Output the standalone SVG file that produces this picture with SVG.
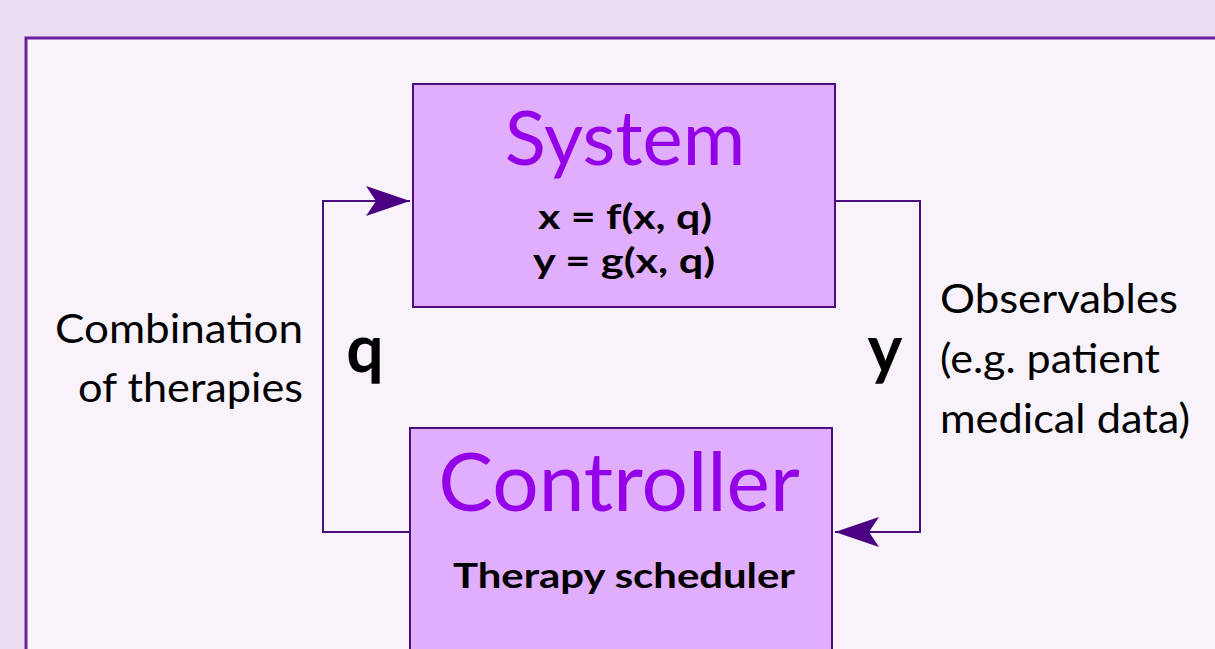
<svg xmlns="http://www.w3.org/2000/svg" width="1215" height="649" viewBox="0 0 1215 649">
<style>
.box{fill:#E0AEFC;stroke:#4B0E7E;stroke-width:2}
.title{font-family:Lato,"Noto Sans",sans-serif;fill:#9400E8;text-anchor:middle}
.eq{font-family:Lato,"Noto Sans",sans-serif;font-weight:bold;fill:#000;text-anchor:middle}
.lbl{font-family:Lato,"Noto Sans",sans-serif;fill:#000;font-size:40px}
.var{font-family:Lato,"Noto Sans",sans-serif;font-weight:bold;fill:#000;font-size:66px}
.conn{fill:none;stroke:#4B0E7E;stroke-width:2}
</style>
<defs>
<marker id="arr" markerWidth="46" markerHeight="30" refX="44" refY="15" orient="auto" markerUnits="userSpaceOnUse">
<path d="M0,0 L44,15 L0,30 L10,15 Z" fill="#4B0082"/>
</marker>
</defs>
<rect x="0" y="0" width="1215" height="649" fill="#EBDDF0"/>
<rect x="26" y="38" width="1200" height="620" fill="#F8F3FA" stroke="#6A1FA0" stroke-width="3"/>
<g id="connectors">
<path class="conn" d="M410,532 H323 V201 H410" marker-end="url(#arr)"/>
<path class="conn" d="M835,201 H920 V532 H835" marker-end="url(#arr)"/>
</g>
<g id="system">
<rect class="box" x="413" y="84" width="422" height="223"/>
<text class="title" x="625" y="165" font-size="76">System</text>
<text class="eq" x="625" y="229" font-size="35" textLength="174" lengthAdjust="spacingAndGlyphs">x = f(x, q)</text>
<text class="eq" x="624" y="273" font-size="35" textLength="182" lengthAdjust="spacingAndGlyphs">y = g(x, q)</text>
</g>
<g id="controller">
<rect class="box" x="410" y="428" width="422" height="240"/>
<text class="title" x="619" y="511" font-size="82">Controller</text>
<text class="eq" x="624" y="588" font-size="35" textLength="342" lengthAdjust="spacingAndGlyphs">Therapy scheduler</text>
</g>
<g id="labels">
<text class="lbl" x="55" y="343" textLength="248" lengthAdjust="spacingAndGlyphs">Combination</text>
<text class="lbl" x="78" y="402" textLength="225" lengthAdjust="spacingAndGlyphs">of therapies</text>
<text class="var" x="365" y="372" text-anchor="middle">q</text>
<text class="var" x="885" y="372" text-anchor="middle">y</text>
<text class="lbl" x="940" y="313" textLength="238" lengthAdjust="spacingAndGlyphs">Observables</text>
<text class="lbl" x="940" y="373" textLength="220" lengthAdjust="spacingAndGlyphs">(e.g. patient</text>
<text class="lbl" x="940" y="433" textLength="250" lengthAdjust="spacingAndGlyphs">medical data)</text>
</g>
</svg>
